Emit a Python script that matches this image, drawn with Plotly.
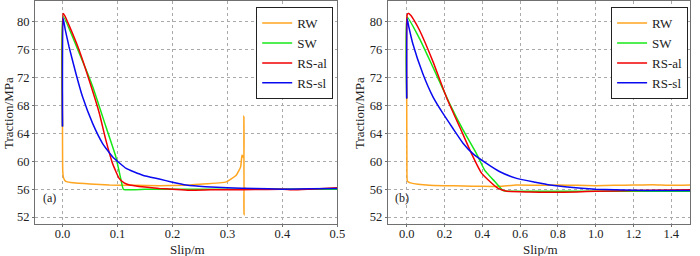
import plotly.graph_objects as go

series_names = ["RW", "SW", "RS-al", "RS-sl"]
colors = ["#FFA51F", "#16E816", "#F00000", "#0A0AF0"]
x_title = "Slip/m"
y_title = "Traction/MPa"

# Panel (a)
rw_a_x = [0, 0.0005, 0.002, 0.006, 0.015, 0.03, 0.05, 0.085, 0.13, 0.176, 0.22, 0.25, 0.298, 0.316, 0.324, 0.3265, 0.3285, 0.3297, 0.3299, 0.3302, 0.3306, 0.335, 0.4, 0.5]
rw_a_y = [65, 58.5, 57.6, 57.1, 56.95, 56.85, 56.75, 56.6, 56.55, 56.5, 56.55, 56.7, 57.05, 58.0, 59.2, 60.9, 60.6, 60.6, 66.5, 52.3, 56.2, 56.0, 56.0, 56.0]
sw_a_x = [0, 0.001, 0.0305, 0.055, 0.079, 0.097, 0.1065, 0.111, 0.15, 0.2, 0.3, 0.4, 0.5]
sw_a_y = [65, 80.8, 75.5, 70.7, 64.95, 60.65, 57.3, 55.97, 55.97, 55.97, 55.97, 55.97, 55.97]
ral_a_x = [0, 0.001, 0.004, 0.012, 0.0305, 0.0487, 0.067, 0.079, 0.091, 0.103, 0.112, 0.122, 0.15, 0.176, 0.2, 0.23, 0.27, 0.3, 0.35, 0.4, 0.42, 0.45, 0.5]
ral_a_y = [65, 81.2, 80.9, 79.5, 75.9, 71.6, 66.9, 63.0, 59.7, 57.55, 56.9, 56.6, 56.3, 56.1, 56.0, 55.85, 55.9, 55.9, 55.95, 56.0, 55.9, 56.0, 56.2]
rsl_a_x = [0, 0.001, 0.005, 0.012, 0.0244, 0.0365, 0.055, 0.073, 0.091, 0.1157, 0.146, 0.176, 0.2, 0.225, 0.26, 0.3, 0.35, 0.4, 0.45, 0.5]
rsl_a_y = [65, 80.6, 78.9, 76.4, 72.6, 69.25, 65.4, 62.55, 60.65, 58.98, 58.0, 57.45, 57.0, 56.6, 56.35, 56.2, 56.1, 56.0, 56.05, 56.1]

# Panel (b)
rw_b_x = [0, 0.001, 0.003, 0.01, 0.02, 0.06, 0.12, 0.2, 0.3, 0.4, 0.49, 0.58, 0.7, 0.8, 0.9, 1.0, 1.1, 1.2, 1.3, 1.4, 1.5]
rw_b_y = [69, 60.0, 57.2, 57.0, 56.9, 56.7, 56.55, 56.5, 56.45, 56.4, 56.4, 56.6, 56.55, 56.6, 56.55, 56.5, 56.55, 56.6, 56.65, 56.55, 56.6]
sw_b_x = [0, 0.002, 0.068, 0.139, 0.227, 0.298, 0.369, 0.413, 0.466, 0.51, 0.55, 0.7, 0.9, 1.2, 1.5]
sw_b_y = [69, 80.7, 77.6, 73.5, 68.3, 64.5, 61.1, 58.7, 57.1, 55.8, 55.7, 55.7, 55.7, 55.7, 55.7]
ral_b_x = [0, 0.002, 0.008, 0.02, 0.04, 0.068, 0.139, 0.21, 0.28, 0.343, 0.396, 0.44, 0.484, 0.53, 0.65, 0.76, 0.9, 1.0, 1.2, 1.5]
ral_b_y = [69, 81.0, 81.25, 81.0, 80.2, 78.8, 74.3, 69.2, 64.95, 61.1, 58.3, 57.1, 56.1, 55.7, 55.6, 55.55, 55.6, 55.7, 55.8, 55.9]
rsl_b_x = [0, 0.002, 0.012, 0.032, 0.085, 0.139, 0.191, 0.245, 0.298, 0.35, 0.422, 0.493, 0.582, 0.68, 0.759, 0.85, 1.0, 1.1, 1.2, 1.35, 1.5]
rsl_b_y = [69, 80.5, 79.2, 76.9, 72.6, 69.25, 66.9, 64.7, 62.6, 61.1, 59.7, 58.5, 57.55, 57.0, 56.6, 56.3, 56.0, 55.9, 55.85, 55.8, 55.8]

panel_a = [(rw_a_x, rw_a_y), (sw_a_x, sw_a_y), (ral_a_x, ral_a_y), (rsl_a_x, rsl_a_y)]
panel_b = [(rw_b_x, rw_b_y), (sw_b_x, sw_b_y), (ral_b_x, ral_b_y), (rsl_b_x, rsl_b_y)]

y_ticks = [52, 56, 60, 64, 68, 72, 76, 80]
xa_ticks = [0.0, 0.1, 0.2, 0.3, 0.4, 0.5]
xb_ticks = [0.0, 0.2, 0.4, 0.6, 0.8, 1.0, 1.2, 1.4]

FONT = "Liberation Serif"

fig = go.Figure()
for i, (x, y) in enumerate(panel_a):
    fig.add_trace(go.Scatter(x=x, y=y, mode="lines", name=series_names[i],
                             line=dict(color=colors[i], width=1.5, shape="spline", smoothing=0.4),
                             xaxis="x", yaxis="y", legend="legend"))
for i, (x, y) in enumerate(panel_b):
    fig.add_trace(go.Scatter(x=x, y=y, mode="lines", name=series_names[i],
                             line=dict(color=colors[i], width=1.5, shape="spline", smoothing=0.4),
                             xaxis="x2", yaxis="y2", legend="legend2"))

axis_common = dict(showline=True, linecolor="#707070", linewidth=1, mirror=True,
                   showgrid=True, gridcolor="#aaaaaa", griddash="dot", gridwidth=1,
                   zeroline=False, ticks="outside", ticklen=2, tickcolor="#707070",
                   automargin=False,
                   tickfont=dict(family=FONT, size=12.5, color="#222"))

title_font = dict(family=FONT, size=13, color="#222")
lab_font = dict(family=FONT, size=12, color="#222")

fig.update_layout(
    width=700, height=256,
    margin=dict(l=0, r=0, t=0, b=0),
    paper_bgcolor="white", plot_bgcolor="white",
    font=dict(family=FONT, size=12, color="#222"),
    xaxis=dict(domain=[0.05, 0.482], range=[-0.05, 0.5], tickvals=xa_ticks,
               tickformat=".1f", anchor="y", ticklabelstandoff=-4, **axis_common),
    yaxis=dict(domain=[0.125, 0.996], range=[51, 83], tickvals=y_ticks, anchor="x",
               **axis_common),
    xaxis2=dict(domain=[0.554, 0.986], range=[-0.1, 1.5], tickvals=xb_ticks,
                tickformat=".1f", anchor="y2", ticklabelstandoff=-4, **axis_common),
    yaxis2=dict(domain=[0.125, 0.996], range=[51, 83], tickvals=y_ticks, anchor="x2",
                **axis_common),
    legend=dict(x=0.366, y=0.972, xanchor="left", yanchor="top", bgcolor="white",
                bordercolor="#222", borderwidth=1, font=dict(family=FONT, size=13, color="#222"),
                tracegroupgap=0, itemwidth=30),
    legend2=dict(x=0.873, y=0.972, xanchor="left", yanchor="top", bgcolor="white",
                 bordercolor="#222", borderwidth=1, font=dict(family=FONT, size=13, color="#222"),
                 tracegroupgap=0, itemwidth=30),
    annotations=[
        dict(text="(a)", x=0.058, y=0.19, xref="paper", yref="paper", showarrow=False,
             xanchor="left", font=lab_font),
        dict(text="(b)", x=0.561, y=0.19, xref="paper", yref="paper", showarrow=False,
             xanchor="left", font=lab_font),
        dict(text=x_title, x=187 / 700, y=1 - 249 / 256, xref="paper", yref="paper",
             showarrow=False, xanchor="center", yanchor="middle", font=title_font),
        dict(text=x_title, x=540 / 700, y=1 - 249 / 256, xref="paper", yref="paper",
             showarrow=False, xanchor="center", yanchor="middle", font=title_font),
        dict(text=y_title, x=8 / 700, y=1 - 113 / 256, xref="paper", yref="paper",
             showarrow=False, xanchor="center", yanchor="middle", textangle=-90, font=title_font),
        dict(text=y_title, x=359 / 700, y=1 - 113 / 256, xref="paper", yref="paper",
             showarrow=False, xanchor="center", yanchor="middle", textangle=-90, font=title_font),
    ],
)

fig.write_html("out.html", config={"displayModeBar": False},
               post_script="document.body.style.margin='0';document.body.style.padding='0';")
